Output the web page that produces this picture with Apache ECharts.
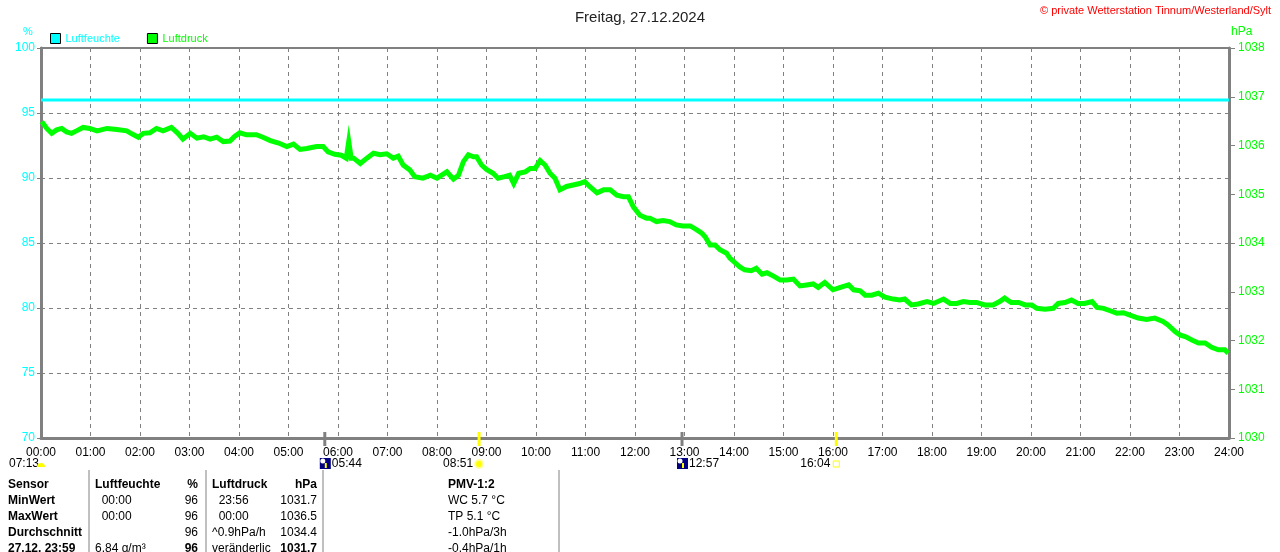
<!DOCTYPE html>
<html>
<head>
<meta charset="utf-8">
<script src="https://cdn.jsdelivr.net/npm/echarts@6/dist/echarts.min.js"></script>
<style>
  html, body { margin: 0; padding: 0; background: #fff; }
  #chart { width: 1280px; height: 552px; }
</style>
</head>
<body>
<div id="chart"></div>
<script>
// Luftdruck (hPa), Zeit in Minuten seit 00:00
var pressTimes = [1, 7, 13, 19, 25, 31, 37, 43, 51, 59, 68, 80, 92, 104, 110, 118, 124, 132, 140, 148,
    158, 166, 172, 181, 189, 197, 205, 213, 221, 229, 235, 241, 249, 261, 269, 278, 288, 298, 306, 314,
    322, 334, 342, 348, 356, 364, 370, 373, 376, 379, 387, 395, 403, 411, 419, 427, 433, 439, 447, 453,
    463, 472, 480, 492, 500, 506, 512, 518, 524, 528, 534, 540, 548, 554, 562, 568, 573, 579, 587, 593,
    599, 605, 611, 617, 623, 629, 637, 645, 653, 659, 665, 674, 682, 690, 698, 706, 712, 718, 726, 734,
    738, 746, 754, 762, 770, 778, 787, 795, 801, 805, 811, 817, 823, 831, 835, 841, 847, 853, 861, 867,
    874, 880, 888, 896, 904, 912, 920, 928, 936, 942, 950, 960, 969, 979, 985, 993, 999, 1007, 1015, 1023,
    1033, 1041, 1047, 1055, 1063, 1074, 1082, 1094, 1102, 1110, 1118, 1126, 1134, 1144, 1154, 1162, 1168, 1176, 1185, 1193,
    1201, 1207, 1217, 1227, 1233, 1241, 1249, 1257, 1265, 1274, 1280, 1288, 1296, 1304, 1312, 1320, 1330, 1340, 1350, 1360,
    1366, 1375, 1381, 1387, 1395, 1403, 1411, 1419, 1427, 1435, 1439];
var pressValues = [1036.49, 1036.35, 1036.25, 1036.32, 1036.35, 1036.28, 1036.25, 1036.30, 1036.37, 1036.35, 1036.30, 1036.35, 1036.33, 1036.30, 1036.24, 1036.17, 1036.25, 1036.26, 1036.35, 1036.30,
    1036.37, 1036.25, 1036.13, 1036.25, 1036.15, 1036.18, 1036.13, 1036.17, 1036.08, 1036.09, 1036.19, 1036.26, 1036.22, 1036.22, 1036.17, 1036.10, 1036.05, 1035.98, 1036.03, 1035.92,
    1035.94, 1035.98, 1035.98, 1035.87, 1035.82, 1035.80, 1035.74, 1036.08, 1035.74, 1035.74, 1035.63, 1035.74, 1035.84, 1035.81, 1035.83, 1035.74, 1035.78, 1035.60, 1035.50, 1035.36,
    1035.33, 1035.39, 1035.33, 1035.46, 1035.31, 1035.39, 1035.67, 1035.81, 1035.77, 1035.77, 1035.60, 1035.51, 1035.43, 1035.33, 1035.36, 1035.39, 1035.22, 1035.43, 1035.46, 1035.53,
    1035.53, 1035.69, 1035.60, 1035.43, 1035.33, 1035.09, 1035.16, 1035.19, 1035.22, 1035.26, 1035.16, 1035.03, 1035.09, 1035.09, 1034.98, 1034.95, 1034.95, 1034.74, 1034.57, 1034.51,
    1034.51, 1034.44, 1034.46, 1034.44, 1034.37, 1034.35, 1034.35, 1034.27, 1034.20, 1034.13, 1033.96, 1033.96, 1033.86, 1033.79, 1033.69, 1033.60, 1033.51, 1033.45, 1033.43, 1033.48,
    1033.36, 1033.39, 1033.32, 1033.24, 1033.24, 1033.26, 1033.12, 1033.14, 1033.16, 1033.09, 1033.19, 1033.04, 1033.09, 1033.14, 1033.04, 1033.02, 1032.93, 1032.93, 1032.97, 1032.89,
    1032.85, 1032.83, 1032.85, 1032.73, 1032.75, 1032.80, 1032.76, 1032.85, 1032.76, 1032.76, 1032.80, 1032.78, 1032.78, 1032.73, 1032.73, 1032.80, 1032.87, 1032.78, 1032.78, 1032.73,
    1032.73, 1032.66, 1032.64, 1032.66, 1032.76, 1032.78, 1032.83, 1032.76, 1032.76, 1032.80, 1032.68, 1032.66, 1032.61, 1032.56, 1032.57, 1032.52, 1032.46, 1032.43, 1032.46, 1032.39,
    1032.32, 1032.18, 1032.11, 1032.08, 1032.01, 1031.95, 1031.95, 1031.86, 1031.81, 1031.81, 1031.74];

// Luftfeuchte (%), den ganzen Tag konstant
var humTimes = [0, 1440];
var humValues = [96, 96];

// Mond/Sonne Ereignisse
var eventTimes = ["05:44", "08:51", "12:57", "16:04"];
var eventKinds = ["moon", "sun", "moon", "sun"];

// Tabelle unten
var tableRows = [
    ["Sensor", "Luftfeuchte", "%", "Luftdruck", "hPa", "PMV-1:2"],
    ["MinWert", "  00:00", "96", "  23:56", "1031.7", "WC 5.7 °C"],
    ["MaxWert", "  00:00", "96", "  00:00", "1036.5", "TP 5.1 °C"],
    ["Durchschnitt", "", "96", "^0.9hPa/h", "1034.4", "-1.0hPa/3h"],
    ["27.12. 23:59", "6.84 g/m³", "96", "veränderlich", "1031.7", "-0.4hPa/1h"]
];

var FONT = "'Liberation Sans', Arial, sans-serif";
var GRAY = "#808080";

function toHours(s) {
    var p = s.split(":");
    return +p[0] + (+p[1]) / 60;
}
function pad(n) { return (n < 10 ? "0" : "") + n; }

var pressData = pressTimes.map(function (m, i) { return [m / 60, pressValues[i]]; });
var humData = humTimes.map(function (m, i) { return [m / 60, humValues[i]]; });
var eventData = eventTimes.map(function (t, i) { return [toHours(t), eventKinds[i] === "sun" ? 1 : 0]; });

var myChart = echarts.init(document.getElementById("chart"));
var option = {
    animation: false,
    textStyle: {fontFamily: FONT},
    title: {
        text: "Freitag, 27.12.2024",
        left: "center",
        top: 5,
        textStyle: {fontSize: 15, fontWeight: "normal", color: "#222", fontFamily: FONT}
    },
    legend: {
        left: 50,
        top: 33,
        padding: 0,
        icon: "rect",
        itemWidth: 10,
        itemHeight: 10,
        itemGap: 27,
        textStyle: {fontSize: 11, fontFamily: FONT},
        data: [
            {name: "Luftfeuchte", itemStyle: {borderColor: "#000", borderWidth: 1}, textStyle: {color: "#00ffff"}},
            {name: "Luftdruck", itemStyle: {borderColor: "#000", borderWidth: 1}, textStyle: {color: "#00ff00"}}
        ]
    },
    grid: {
        left: 41,
        right: 51,
        top: 48,
        bottom: 114,
        show: true,
        borderColor: GRAY,
        borderWidth: 2
    },
    xAxis: {
        type: "value",
        min: 0,
        max: 24,
        interval: 1,
        axisLine: {show: true, onZero: false, lineStyle: {color: GRAY, width: 3}},
        axisTick: {show: false},
        axisLabel: {
            color: "#000",
            fontSize: 12,
            margin: 9,
            fontFamily: FONT,
            formatter: function (v) { return pad(v) + ":00"; }
        },
        splitLine: {show: true, lineStyle: {color: GRAY, type: [4, 4], width: 1}}
    },
    yAxis: [
        {
            type: "value",
            min: 70,
            max: 100,
            interval: 5,
            axisLine: {show: true, lineStyle: {color: GRAY, width: 3}},
            axisTick: {show: true, length: 4, lineStyle: {color: GRAY, width: 1}},
            axisLabel: {color: "#00ffff", fontSize: 12, margin: 6, fontFamily: FONT},
            splitLine: {show: true, lineStyle: {color: GRAY, type: [4, 4], width: 1}}
        },
        {
            type: "value",
            min: 1030,
            max: 1038,
            interval: 1,
            position: "right",
            axisLine: {show: true, lineStyle: {color: GRAY, width: 3}},
            axisTick: {show: true, length: 6, lineStyle: {color: GRAY, width: 1}},
            axisLabel: {
                color: "#00ff00", fontSize: 12, margin: 9, fontFamily: FONT,
                formatter: function (v) { return String(v); }
            },
            splitLine: {show: false}
        }
    ],
    series: [
        {
            name: "Luftfeuchte",
            type: "line",
            yAxisIndex: 0,
            data: humData,
            symbol: "none",
            color: "#00ffff",
            lineStyle: {width: 3, color: "#00ffff"}
        },
        {
            name: "Luftdruck",
            type: "line",
            yAxisIndex: 1,
            data: pressData,
            symbol: "none",
            color: "#00ff00",
            lineStyle: {width: 5, color: "#00ff00", join: "miter"},
            z: 3
        },
        {
            // kurze Markierungen für Mond-/Sonnenereignisse an der Zeitachse
            name: "Ereignisse",
            type: "custom",
            yAxisIndex: 0,
            clip: false,
            silent: true,
            z: 5,
            data: eventData,
            renderItem: function (params, api) {
                var p = api.coord([api.value(0), 70]);
                var sun = api.value(1) === 1;
                return {
                    type: "line",
                    shape: {x1: p[0], y1: p[1] - 6, x2: p[0], y2: p[1] + 8},
                    style: {stroke: sun ? "#ffff00" : GRAY, lineWidth: 3}
                };
            }
        }
    ]
};
myChart.setOption(option);

// Beschriftungen, Ereignisse und Tabelle
var g = [];
g.push({type: "text", left: 1040, top: 5, style: {text: "© private Wetterstation Tinnum/Westerland/Sylt", fill: "#ff0000", font: "11px " + FONT}});
g.push({type: "text", x: 23, y: 26, style: {text: "%", fill: "#00ffff", font: "11px " + FONT}});
g.push({type: "text", x: 1231, y: 26, style: {text: "hPa", fill: "#00ff00", font: "12px " + FONT}});

// Sonnenaufgang-Anzeige links
g.push({type: "text", x: 9, y: 458, style: {text: "07:13", fill: "#000", font: "12px " + FONT}});
g.push({type: "sector", shape: {cx: 41, cy: 467, r0: 0, r: 4, startAngle: Math.PI, endAngle: 2 * Math.PI}, style: {fill: "#ffff00"}});

eventTimes.forEach(function (t, i) {
    var px = myChart.convertToPixel({xAxisIndex: 0}, toHours(t));
    if (eventKinds[i] === "moon") {
        g.push({type: "rect", shape: {x: px - 5, y: 458, width: 11, height: 11}, style: {fill: "#000080"}});
        g.push({type: "circle", shape: {cx: px - 2, cy: 461, r: 2.5}, style: {fill: "#ffffff"}});
        g.push({type: "rect", shape: {x: px, y: 463, width: 2, height: 5}, style: {fill: "#ffff00"}});
        g.push({type: "text", x: px + 7, y: 458, style: {text: t, fill: "#000", font: "12px " + FONT}});
    } else {
        g.push({type: "text", x: px - 6, y: 458, style: {text: t, fill: "#000", font: "12px " + FONT, align: "right"}});
        if (i === 1) {
            g.push({type: "circle", shape: {cx: px, cy: 464, r: 4}, style: {fill: "#ffff00", stroke: "#ffff99", lineWidth: 2}});
        } else {
            g.push({type: "rect", shape: {x: px - 3, y: 461, width: 6, height: 6}, style: {fill: "none", stroke: "#ffff00", lineWidth: 1}});
        }
    }
});

// Trennlinien der Tabelle
[89, 206, 323, 559].forEach(function (x) {
    g.push({type: "line", shape: {x1: x, y1: 470, x2: x, y2: 552}, style: {stroke: GRAY, lineWidth: 1}});
});

var rowY = [479, 495, 511, 527, 543];
tableRows.forEach(function (row, r) {
    var y = rowY[r];
    var bold = r === 0;
    var f = "12px " + FONT;
    var fb = "bold 12px " + FONT;
    g.push({type: "text", x: 8, y: y, style: {text: row[0], fill: "#000", font: fb}});
    g.push({type: "text", x: 95, y: y, style: {text: row[1], fill: "#000", font: bold ? fb : f}});
    g.push({type: "text", x: 198, y: y, style: {text: row[2], fill: "#000", font: (bold || r === 4) ? fb : f, align: "right"}});
    g.push({type: "text", x: 212, y: y, style: {text: row[3], fill: "#000", font: bold ? fb : f, width: 60, overflow: "truncate", ellipsis: ""}});
    g.push({type: "text", x: 317, y: y, style: {text: row[4], fill: "#000", font: (bold || r === 4) ? fb : f, align: "right"}});
    g.push({type: "text", x: 448, y: y, style: {text: row[5], fill: "#000", font: bold ? fb : f}});
});

myChart.setOption({graphic: g});

window.addEventListener("resize", function () {
    myChart.resize();
});
</script>
</body>
</html>
